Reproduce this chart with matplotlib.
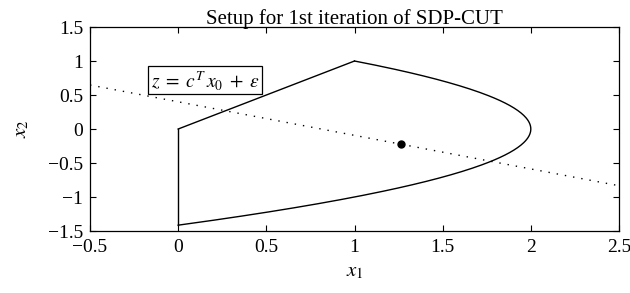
import numpy as np
import matplotlib
matplotlib.use("Agg")
import matplotlib.pyplot as plt

plt.rcParams['font.family'] = ['Liberation Serif', 'DejaVu Serif']
plt.rcParams['mathtext.fontset'] = 'stix'

# feasible region: segment (0,0)-(1,1), curve x1 = 2 - x2^2, vertical at x1=0
edge_x = [0.0, 1.0]
edge_y = [0.0, 1.0]
curve_y = np.linspace(1.0, -np.sqrt(2), 200)
curve_x = 2 - curve_y**2
side_x = [0.0, 0.0]
side_y = [-np.sqrt(2), 0.0]

# objective line through x0
obj_x = [-0.5, 2.5]
obj_y = [0.647, -0.834]
x0 = (1.262, -0.223)

fig = plt.figure(figsize=(6.3, 2.93), dpi=100)
ax = fig.add_axes([0.1429, 0.2116, 0.8396, 0.6962])

ax.plot(edge_x, edge_y, color='black', lw=1.0)
ax.plot(curve_x, curve_y, color='black', lw=1.0)
ax.plot(side_x, side_y, color='black', lw=1.0)
ax.plot(obj_x, obj_y, color='black', lw=1.0, linestyle=(0, (1, 5)))
ax.plot([x0[0]], [x0[1]], 'o', color='black', markersize=5)

ax.text(0.152, 0.72, r'$z\;=\;c^T\,x_0\;+\;\epsilon$', fontsize=14, ha='center', va='center',
        bbox=dict(boxstyle='square,pad=0.12', fc='white', ec='black', lw=0.9))

ax.set_xlim(-0.5, 2.5)
ax.set_ylim(-1.5, 1.5)
ax.set_xticks([-0.5, 0, 0.5, 1, 1.5, 2, 2.5])
ax.set_xticklabels(['\u22120.5', '0', '0.5', '1', '1.5', '2', '2.5'])
ax.set_yticks([-1.5, -1, -0.5, 0, 0.5, 1, 1.5])
ax.set_yticklabels(['\u22121.5', '\u22121', '\u22120.5', '0', '0.5', '1', '1.5'])
ax.tick_params(direction='in', top=True, right=True, labelsize=14, length=4, width=0.8)
ax.tick_params(axis='x', pad=6)
ax.tick_params(axis='y', pad=5)
for s in ax.spines.values():
    s.set_linewidth(0.9)

ax.set_title('Setup for 1st iteration of SDP-CUT', fontsize=15, pad=2)
ax.set_xlabel(r'$x_1$', fontsize=15, labelpad=4)
ax.set_ylabel(r'$x_2$', fontsize=15, labelpad=12)

fig.savefig('out.png', dpi=100)
